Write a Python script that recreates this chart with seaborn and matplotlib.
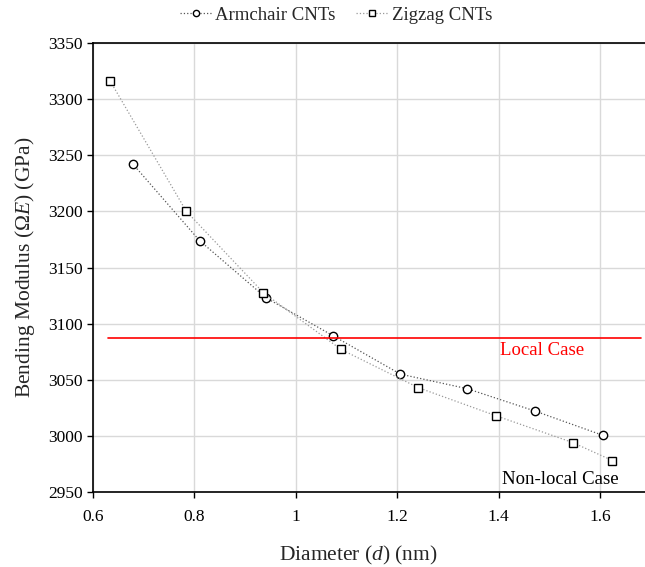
import numpy as np
import pandas as pd
import seaborn as sns
import matplotlib
matplotlib.use("Agg")
import matplotlib.pyplot as plt
from matplotlib.ticker import FuncFormatter

# values
arm_d = [0.678, 0.810, 0.941, 1.074, 1.206, 1.338, 1.472, 1.605]
arm_E = [3242.5, 3174, 3123, 3089, 3055, 3042, 3022, 3000.5]
zig_d = [0.634, 0.784, 0.936, 1.089, 1.241, 1.394, 1.546, 1.624]
zig_E = [3316, 3200, 3127.5, 3077, 3043, 3018, 2994, 2978]
local_E = 3087
local_span = [0.63, 1.68]

arm = pd.DataFrame({'d': arm_d, 'E': arm_E})
zig = pd.DataFrame({'d': zig_d, 'E': zig_E})

sns.set_style('whitegrid')
plt.rcParams['font.family'] = ['Liberation Serif', 'DejaVu Serif']
plt.rcParams['mathtext.fontset'] = 'custom'
plt.rcParams['mathtext.rm'] = 'Liberation Serif'
plt.rcParams['mathtext.it'] = 'Liberation Serif:italic'

fig = plt.figure(figsize=(6.45, 5.67), dpi=100)
ax = fig.add_axes([93/645, 1-492/567, 558/645, 449/567])

sns.lineplot(data=arm, x='d', y='E', ax=ax, color='#555555', lw=0.9, ls=':',
             marker='o', markersize=6, markerfacecolor='white', markeredgecolor='black',
             markeredgewidth=1.0, sort=False, label='Armchair CNTs')
sns.lineplot(data=zig, x='d', y='E', ax=ax, color='#999999', lw=0.9, ls=':',
             marker='s', markersize=5.5, markerfacecolor='white', markeredgecolor='black',
             markeredgewidth=1.0, sort=False, label='Zigzag CNTs')
ax.plot(local_span, [local_E, local_E], color='red', lw=1.2)

ax.text(1.486, 3076, 'Local Case', color='red', fontsize=13.5, ha='center', va='center')
ax.text(1.407, 2961, 'Non-local Case', color='black', fontsize=13.5, ha='left', va='center')

ax.set_xlim(0.6, 1.7)
ax.set_ylim(2950, 3350)
ax.set_xticks([0.6, 0.8, 1.0, 1.2, 1.4, 1.6])
ax.set_yticks(np.arange(2950, 3351, 50))
ax.xaxis.set_major_formatter(FuncFormatter(lambda v, p: f'{v:g}'))
ax.grid(True, color='#d9d9d9', lw=1.0)
for s in ['left', 'bottom', 'top']:
    ax.spines[s].set_color('black')
    ax.spines[s].set_linewidth(1.2)
ax.spines['right'].set_visible(False)
ax.tick_params(axis='both', direction='out', length=4, width=1, color='black',
               labelsize=12.5, labelcolor='black', bottom=True, left=True)
ax.tick_params(axis='x', pad=8)

ax.set_xlabel('Diameter ($\\mathit{d}$) (nm)', fontsize=15.5)
ax.xaxis.set_label_coords(0.475, -0.115)
ax.set_ylabel('Bending Modulus ($\\mathit{\u03A9E}$) (GPa)', fontsize=15.5, labelpad=8)

h, l = ax.get_legend_handles_labels()
ax.get_legend().remove()
fig.legend(h, l, loc='center', bbox_to_anchor=(336/645, 1 - 15/567), ncol=2, frameon=False,
           fontsize=13.5, handlelength=1.7, columnspacing=1.1, handletextpad=0.2,
           markerscale=0.75)

fig.savefig('out.png', dpi=100)
